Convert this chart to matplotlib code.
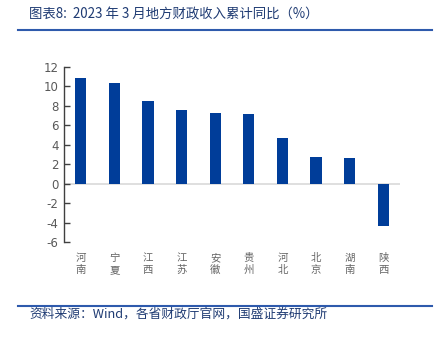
import matplotlib
matplotlib.use("Agg")
import matplotlib.pyplot as plt
from matplotlib.lines import Line2D

plt.rcParams['font.family'] = ['Noto Sans CJK SC', 'DejaVu Sans']

categories = ['河南', '宁夏', '江西', '江苏', '安徽', '贵州', '河北', '北京', '湖南', '陕西']
values = [10.9, 10.4, 8.5, 7.6, 7.3, 7.2, 4.7, 2.7, 2.6, -4.4]
yticks = [-6, -4, -2, 0, 2, 4, 6, 8, 10, 12]

title = '图表8:  2023 年 3 月地方财政收入累计同比（%）'
source = '资料来源：Wind，各省财政厅官网，国盛证券研究所'

fig = plt.figure(figsize=(4.41, 3.37), dpi=100)
ax = fig.add_axes([0.145, 0.282, 0.762, 0.519])

x = list(range(len(categories)))
ax.bar(x, values, width=0.33, color='#003D99', zorder=2)
ax.axhline(0, color='#D9D9D9', lw=1.2, zorder=1)

ax.set_xlim(-0.5, 9.5)
ax.set_ylim(-6, 12)
ax.set_yticks(yticks)
ax.set_yticklabels([str(t) for t in yticks], fontsize=8.5, color='#595959', family='DejaVu Sans')
ax.tick_params(axis='y', direction='in', length=4, width=1, color='#404040', pad=4)
ax.set_xticks(x)
ax.set_xticklabels(['\n'.join(c) for c in categories], fontsize=7.5, color='#666666', linespacing=1.25)
ax.tick_params(axis='x', length=0, pad=8)

for s in ['top', 'right', 'bottom']:
    ax.spines[s].set_visible(False)
ax.spines['left'].set_color('#404040')
ax.spines['left'].set_linewidth(1)

fig.text(29/441, 1 - 15/337, title, fontsize=9.65, color='#1F3B73', style='italic', va='center', ha='left')
fig.add_artist(Line2D([18/441, 432/441], [1 - 29.5/337, 1 - 29.5/337], color='#2E5AAC', lw=1.5))
fig.add_artist(Line2D([18/441, 432/441], [1 - 306/337, 1 - 306/337], color='#2E5AAC', lw=1.5))
fig.text(29/441, 1 - 314.5/337, source, fontsize=9.2, color='#1F3B73', style='italic', va='center', ha='left')

fig.savefig('out.png', dpi=100)
